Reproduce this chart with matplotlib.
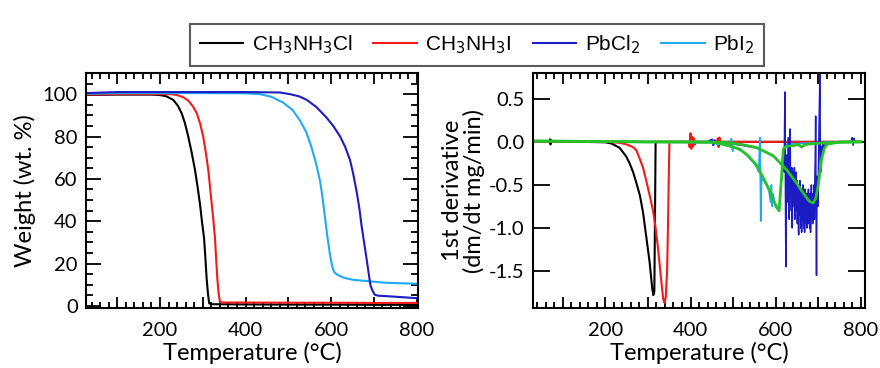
import matplotlib
matplotlib.use("Agg")
import matplotlib.pyplot as plt
from matplotlib.ticker import MultipleLocator, FuncFormatter
from matplotlib.lines import Line2D

# ---------------- data ----------------
series_names = ["CH$_3$NH$_3$Cl", "CH$_3$NH$_3$I", "PbCl$_2$", "PbI$_2$"]
series_colors = ["#000000", "#f41a1a", "#1c1cc4", "#1eaaf5"]
green_color = "#27c22a"

# TGA weight curves (temperature degC, weight %)
tga_macl_T = [25, 100, 180, 200, 215, 231, 242, 250.6, 258, 266, 274, 282, 288, 293.5, 298, 303, 306, 309, 312, 315, 320, 400, 500, 600, 700, 800]
tga_macl_W = [99.6, 99.8, 99.8, 99.6, 99, 97.3, 94.5, 91, 86.5, 80, 72.5, 64, 56, 48, 40, 32, 23, 13, 6, 1.2, 0.8, 0.7, 0.6, 0.6, 0.5, 0.5]

tga_mai_T = [25, 100, 200, 225, 239, 253, 266, 276, 286, 294, 301, 307, 313, 317, 321, 325, 328.5, 331, 334, 337, 340, 345, 400, 500, 600, 700, 800]
tga_mai_W = [99.8, 100, 100, 100, 99.6, 98.7, 97, 94.5, 91, 86, 80, 72.5, 64, 56, 48, 40, 32, 23, 13, 6, 2, 1.6, 1.6, 1.5, 1.5, 1.4, 1.4]

tga_pbcl2_T = [25, 100, 200, 300, 400, 480, 504, 525, 543, 565, 589, 605, 621, 633, 644, 652, 660, 666, 671, 677, 683, 688, 692, 697, 702, 710, 730, 760, 796, 800]
tga_pbcl2_W = [100.5, 101, 101, 101, 101, 100.8, 100, 99, 97.3, 94, 89, 85, 80, 75, 69, 62, 53.5, 46, 38, 30, 22, 15, 9.7, 7, 5.3, 4.8, 4.6, 4.2, 3.7, 3.7]

tga_pbi2_T = [25, 100, 200, 300, 400, 434, 460, 488, 510, 527, 542, 554, 565, 574, 580, 585.5, 591, 597, 602, 607, 614, 621, 635, 652, 680, 722, 760, 796, 800]
tga_pbi2_W = [100.2, 100.5, 100.5, 100.5, 100.4, 100, 98.8, 96, 92.5, 87.6, 82, 75, 67, 59, 51, 42, 33, 24.6, 19, 16, 14.8, 14, 13, 12.3, 11.8, 11, 10.7, 10.5, 10.5]

# First derivative curves (temperature degC, dm/dt mg/min)
dtg_macl = [(25, 0.01), (68, 0.0), (70, 0.03), (71, -0.03), (72, 0.02), (74, 0.0), (150, 0.0),
            (200, -0.005), (215, -0.02), (233.6, -0.07), (249, -0.17), (257, -0.25), (265, -0.35),
            (273, -0.48), (281, -0.62), (288.5, -0.82), (296, -1.1), (300, -1.25), (304, -1.4),
            (308, -1.6), (310, -1.7), (312.5, -1.78), (315, -1.74), (317, -0.6), (318, 0.0),
            (330, 0.0), (500, 0.0), (700, 0.0), (800, 0.0)]

dtg_mai = [(25, 0.0), (200, 0.0), (233, -0.01), (250, -0.03), (265, -0.06), (273, -0.1),
           (281, -0.2), (288.5, -0.3), (296, -0.45), (304, -0.62), (312, -0.8), (318, -1.0),
           (324, -1.25), (328, -1.45), (332, -1.65), (336, -1.83), (339, -1.87), (342, -1.8),
           (345, -1.5), (347, -1.0), (349, -0.4), (350.5, 0.0), (360, 0.0),
           (396, 0.0), (398, -0.06), (400, 0.1), (402, -0.08), (404, 0.06), (406, -0.05),
           (408, 0.04), (410, -0.03), (412, 0.0), (462, 0.0), (464, 0.04), (466, -0.06),
           (468, 0.05), (470, -0.02), (472, 0.0), (600, 0.0), (800, 0.0)]

dtg_pbi2 = [(25, 0.01), (300, 0.0), (400, -0.005), (440, -0.01), (452, 0.03), (455, -0.04),
            (458, 0.02), (462, -0.03), (470, -0.02), (490, -0.05), (496, 0.04), (499, -0.11),
            (502, -0.06), (510, -0.08), (527, -0.13), (540, -0.2), (550, -0.25), (556, -0.3),
            (560, -0.35), (563, 0.05), (565, -0.92), (567, -0.4), (569, -0.45), (572, -0.42),
            (576, -0.48), (580, -0.5), (584, -0.56), (588, -0.7), (590, -0.5), (592, -0.75),
            (594, -0.6), (597, -0.7), (600, -0.76), (604, -0.78), (608, -0.8), (611, -0.6),
            (614, -0.4), (618, -0.08), (625, -0.03), (650, -0.02), (700, -0.01), (760, 0.0),
            (800, 0.0)]

dtg_pbcl2 = [(25, 0.01), (300, 0.0), (440, 0.0), (450, 0.03), (453, -0.04), (456, 0.02),
             (460, -0.01), (480, -0.01), (520, -0.04), (555, -0.07), (594, -0.16), (610, -0.24),
             (618, -0.28), (619, -0.1), (620, -0.35), (621, 0.2), (622, 0.58), (623, -0.6),
             (624, -1.45), (625, -0.3), (626, -0.5), (627, -0.15), (628, -0.7), (629, -0.3),
             (630, 0.05), (631, -0.6), (632, -0.9), (633, -0.2), (634, 0.15), (635, -0.55),
             (636, -0.35), (637, -0.8), (638, -0.3), (639, -1.0), (640, -0.45), (641, -0.75),
             (642, -0.35), (643, -0.6), (644, -0.3), (645, -0.9), (646, -0.5), (647, -0.8),
             (648, -0.35), (649, -0.7), (650, -0.45), (651, -0.95), (652, -0.5), (653, -0.8),
             (654, -1.08), (655, -0.55), (656, -0.85), (657, -0.45), (658, -0.7), (659, -1.0),
             (660, -0.55), (661, -1.05), (662, -0.6), (663, -0.9), (664, -0.5), (665, -0.8),
             (666, -1.0), (667, -0.6), (668, -1.05), (669, -0.55), (670, -0.85), (671, -0.6),
             (672, -0.95), (673, -0.65), (674, -1.0), (675, -0.6), (676, -0.85), (677, -0.55),
             (678, -0.95), (679, -0.7), (680, -1.0), (681, -0.6), (682, -1.05), (683, -0.7),
             (684, -0.5), (685, -0.9), (686, -0.6), (687, -0.95), (688, -0.6), (689, -0.85),
             (690, -0.5), (691, -0.9), (692, -0.45), (693, -0.2), (694, 0.3), (695, -0.8),
             (696, -1.55), (697, -0.6), (698, -0.4), (699, -0.75), (700, -0.5), (701, -0.2),
             (702, 0.2), (703, 0.5), (704, 0.8), (705, -0.2), (706, -0.35), (707, -0.1),
             (708, -0.2), (709, -0.05), (710, -0.12), (711, -0.03), (712, -0.08),
             (716, -0.03), (722, -0.02), (740, 0.0), (778, 0.0), (780, 0.05), (782, -0.04),
             (784, 0.04), (786, 0.0), (800, 0.0)]

dtg_green_pbi2 = [(25, 0.01), (300, 0.0), (440, 0.0), (460, -0.01), (477, -0.03), (500, -0.06),
                  (516, -0.085), (535, -0.16), (555, -0.27), (567, -0.38), (579, -0.5), (587, -0.58),
                  (594, -0.67), (601, -0.74), (608, -0.8), (611, -0.6), (614, -0.4), (618, -0.085),
                  (625, -0.05), (640, -0.045), (653, -0.03), (661, -0.06), (670, -0.03),
                  (690, -0.02), (720, -0.01), (800, 0.0)]

dtg_green_pbcl2 = [(25, 0.01), (300, 0.0), (480, -0.005), (520, -0.03), (555, -0.066), (594, -0.16),
                   (625, -0.32), (648, -0.47), (664, -0.59), (679, -0.69), (688, -0.71), (694, -0.66),
                   (700, -0.51), (704, -0.35), (708, -0.2), (714, -0.08), (720, -0.03), (750, 0.0),
                   (800, 0.0)]

# ---------------- style ----------------
plt.rcParams["font.family"] = ["Lato", "DejaVu Sans"]
plt.rcParams["mathtext.fontset"] = "custom"
plt.rcParams["mathtext.rm"] = "Liberation Sans Narrow"
plt.rcParams["mathtext.it"] = "Liberation Sans Narrow"

fig = plt.figure(figsize=(8.8, 3.68), dpi=100)
ax1 = fig.add_axes([0.0977, 0.163, 0.3773, 0.6386])
ax2 = fig.add_axes([0.6057, 0.163, 0.3773, 0.6386])

lw = 1.5
ax1.plot(tga_macl_T, tga_macl_W, color=series_colors[0], lw=lw)
ax1.plot(tga_mai_T, tga_mai_W, color=series_colors[1], lw=lw)
ax1.plot(tga_pbi2_T, tga_pbi2_W, color=series_colors[3], lw=lw)
ax1.plot(tga_pbcl2_T, tga_pbcl2_W, color=series_colors[2], lw=lw)

def xy(pairs):
    return [p[0] for p in pairs], [p[1] for p in pairs]

ax2.plot(*xy(dtg_macl), color=series_colors[0], lw=lw)
ax2.plot(*xy(dtg_mai), color=series_colors[1], lw=lw)
ax2.plot(*xy(dtg_pbi2), color=series_colors[3], lw=1.2)
ax2.plot(*xy(dtg_pbcl2), color=series_colors[2], lw=1.1)
ax2.plot(*xy(dtg_green_pbi2), color=green_color, lw=2.0)
ax2.plot(*xy(dtg_green_pbcl2), color=green_color, lw=2.0)

ax1.set_xlim(27, 803)
ax1.set_ylim(-1, 110)
ax2.set_xlim(30, 810)
ax2.set_ylim(-1.93, 0.8)

def xfmt(v, pos):
    return "%d" % v if int(round(v)) % 200 == 0 else ""

for ax in (ax1, ax2):
    for s in ax.spines.values():
        s.set_linewidth(1.5)
    ax.xaxis.set_major_locator(MultipleLocator(100))
    ax.xaxis.set_minor_locator(MultipleLocator(20))
    ax.xaxis.set_major_formatter(FuncFormatter(xfmt))
    ax.tick_params(which="both", direction="in", top=True, right=True,
                   labelsize=14.5, width=1.3, pad=6)
    ax.tick_params(which="major", length=8)
    ax.tick_params(which="minor", length=4)
    ax.tick_params(axis="x", which="major", pad=10)
    ax.set_xlabel("Temperature (°C)", fontsize=17, labelpad=2)

ax1.yaxis.set_major_locator(MultipleLocator(20))
ax1.yaxis.set_minor_locator(MultipleLocator(5))
ax1.tick_params(axis="y", which="major", length=11)
ax1.tick_params(axis="y", which="minor", length=5)
ax1.set_ylabel("Weight (wt. %)", fontsize=17, labelpad=5)

ax2.yaxis.set_major_locator(MultipleLocator(0.5))
ax2.yaxis.set_major_formatter(FuncFormatter(lambda v, p: "%.1f" % v))
ax2.tick_params(axis="y", which="minor", left=False, right=False)
ax2.tick_params(axis="y", which="major", length=12)
ax2.set_ylabel("1st derivative\n(dm/dt mg/min)", fontsize=17, labelpad=3, linespacing=1.0)

handles = [Line2D([], [], color=c, lw=1.5) for c in series_colors]
leg = fig.legend(handles, series_names, loc="upper center", bbox_to_anchor=(0.542, 0.962),
                 ncol=4, frameon=True, fancybox=False, handlelength=2.1,
                 handletextpad=0.4, columnspacing=1.0, borderpad=0.45,
                 prop={"family": ["Liberation Sans Narrow", "Liberation Sans"], "size": 15})
leg.get_frame().set_edgecolor("#333333")
leg.get_frame().set_linewidth(1.5)

fig.savefig("out.png", dpi=100)
